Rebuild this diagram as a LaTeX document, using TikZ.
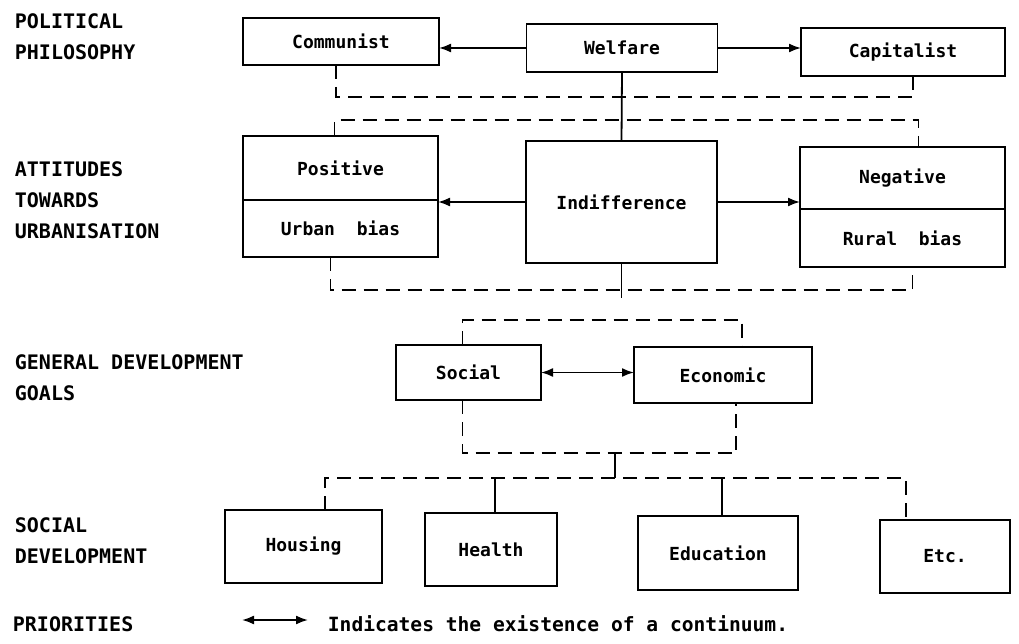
\documentclass[tikz,border=0pt]{standalone}
\usepackage{fontspec}
\usepackage{tikz}
\usetikzlibrary{arrows.meta,positioning}
\newfontfamily\diafont{DejaVu Sans Mono}

\begin{document}
\begin{tikzpicture}[x=1pt,y=-1pt,>={Latex[length=12pt,width=9pt]},line width=1.8pt,node distance=281pt,
  box/.style={draw,rectangle,inner sep=0pt,outer sep=0pt,font=\diafont\bfseries\fontsize{18}{20}\selectfont},
  lbl/.style={anchor=west,align=left,inner sep=0pt,font=\diafont\bfseries\fontsize{20}{31}\selectfont},
  link/.style={dash pattern=on 14pt off 8pt}]
  \useasboundingbox (0,0) rectangle (1019,644);

  \node[box,minimum width=196pt,minimum height=47pt]	(communist)	at (341,41.5)	{Communist};
  \node[box,minimum width=191pt,minimum height=48pt]	(welfare) [right of=communist,yshift=-6.5pt]	{Welfare};
  \node[box,minimum width=204pt,minimum height=48pt]	(capitalist) [right of=welfare,yshift=-4pt]	{Capitalist};

  \node[box,minimum width=195pt,minimum height=64pt]	(positive)	at (340.5,168)	{Positive};
  \node[box,minimum width=195pt,minimum height=57pt]	(urban) [below=0pt of positive]	{Urban~~bias};
  \node[box,minimum width=191pt,minimum height=122pt]	(indiff)	at (621.5,202)	{Indifference};
  \node[box,minimum width=205pt,minimum height=62pt]	(negative)	at (902.5,178)	{Negative};
  \node[box,minimum width=205pt,minimum height=58pt]	(rural) [below=0pt of negative]	{Rural~~bias};

  \node[box,minimum width=145pt,minimum height=55pt]	(social)	at (468.5,372.5)	{Social};
  \node[box,minimum width=178pt,minimum height=56pt]	(economic)	at (723,375)	{Economic};

  \node[box,minimum width=157pt,minimum height=73pt]	(housing)	at (303.5,546.5)	{Housing};
  \node[box,minimum width=132pt,minimum height=73pt]	(health)	at (491,549.5)	{Health};
  \node[box,minimum width=160pt,minimum height=74pt]	(education)	at (718,553)	{Education};
  \node[box,minimum width=130pt,minimum height=73pt]	(etc)	at (945,556.5)	{Etc.};

  \node[lbl] (polphil)	at (14,36.5)	{POLITICAL\\PHILOSOPHY};
  \node[lbl] (attitudes)	at (14,200)	{ATTITUDES\\TOWARDS\\URBANISATION};
  \node[lbl] (goals)	at (14,377.5)	{GENERAL DEVELOPMENT\\GOALS};
  \node[lbl] (socdev)	at (14,540.5)	{SOCIAL\\DEVELOPMENT};
  \node[lbl] (priorities)	at (12,624)	{PRIORITIES};
  \node[anchor=west,inner sep=0pt,font=\diafont\bfseries\fontsize{19.6}{24}\selectfont] (legend) at (327,624) {Indicates the existence of a continuum.};

  \coordinate (legstart) at (242,620);
  \coordinate (legend tip) at (308,620);
  \coordinate (goalsj) at (615,453);
  \coordinate (prioj) at (615,478);

  \draw[->] (welfare.west) -- (welfare.west -| communist.east);
  \draw[->] (welfare.east) -- (welfare.east -| capitalist.west);
  \draw[link] ([xshift=-5pt]communist.south) -- ++(0,32) -| ([xshift=10pt]capitalist.south);
  \draw (welfare.south) -- (indiff.north);

  \draw[->] (indiff.west) -- (indiff.west -| urban.east);
  \draw[->] (indiff.east) -- (indiff.east -| negative.west);
  \draw[link] ([xshift=-6pt]positive.north) -- ++(0,-16) -| ([xshift=16pt]negative.north);
  \draw[link] ([xshift=-10pt]urban.south) -- ++(0,33) -| ([xshift=10pt]rural.south);
  \draw (indiff.south) -- ++(0,35);

  \draw[<->] (social.east) -- (social.east -| economic.west);
  \draw[link] ([xshift=-6pt]social.north) -- ++(0,-25) -| ([xshift=19pt]economic.north);
  \draw[link] ([xshift=-6pt]social.south) -- ++(0,53) -| ([xshift=13pt]economic.south);
  \draw (goalsj) -- (prioj);
  \draw[link] ([xshift=21.5pt]housing.north) |- (prioj) -| ([xshift=-39pt]etc.north);
  \draw ([xshift=4pt]health.north) -- ++(0,-36);
  \draw ([xshift=4pt]education.north) -- ++(0,-38);

  \draw[<->] (legstart) -- (legend tip);
\end{tikzpicture}
\end{document}
